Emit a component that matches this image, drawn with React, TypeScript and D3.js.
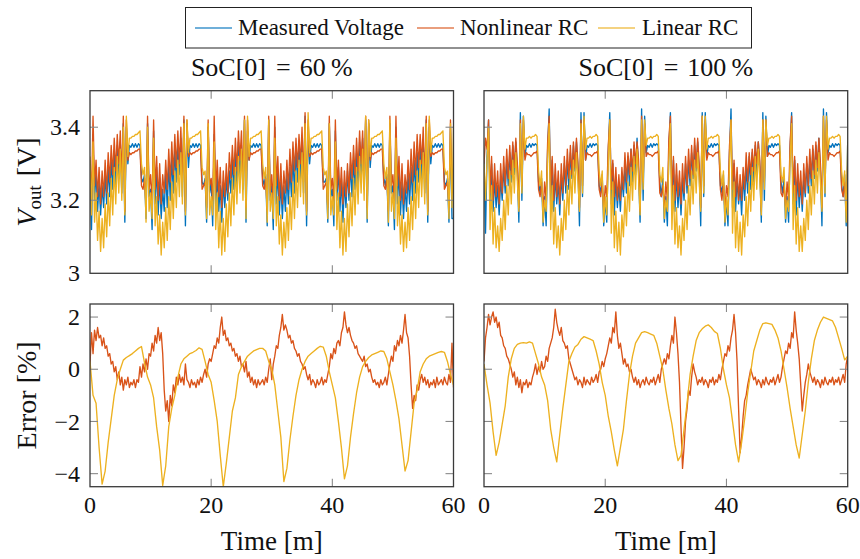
import React from "react";
import * as d3 from "d3";

const FONT = "'Liberation Serif', 'Times New Roman', serif";

const legendLabels = ["Measured Voltage", "Nonlinear RC", "Linear RC"];
const lineColors = ["#0072BD", "#D95319", "#EDB120"];
const panelTitleLeft = ["SoC[0]", "=", "60\u2009%"];
const panelTitleRight = ["SoC[0]", "=", "100\u2009%"];
const timeTicks = [0, 20, 40, 60];
const voltTicks = [3, 3.2, 3.4];
const voltTickLabels = ["3", "3.2", "3.4"];
const errTicks = [-4, -2, 0, 2];
const errTickLabels = ["\u22124", "\u22122", "0", "2"];
const timeDomain: [number, number] = [0, 60];
const voltDomain: [number, number] = [3, 3.5];
const errDomain: [number, number] = [-4.5, 2.5];

// ---- SoC[0] = 60 % : output voltage [V], sampled every 0.25 min ----
const leftMeasured = [
  3.30, 3.12, 3.36, 3.20, 3.28, 3.17, 3.25, 3.16, 3.24, 3.18, 3.27, 3.19, 3.29, 3.21, 3.31, 3.23, 3.33, 3.24, 3.35, 3.26, 3.36, 3.22, 3.41, 3.14, 3.40, 3.30, 3.35, 3.345, 3.355, 3.345, 3.355, 3.345, 3.355, 3.35, 3.26, 3.25, 3.27, 3.15, 3.41, 3.21,
  3.23, 3.12, 3.39, 3.19, 3.29, 3.16, 3.26, 3.15, 3.23, 3.17, 3.28, 3.18, 3.30, 3.20, 3.32, 3.22, 3.34, 3.25, 3.35, 3.27, 3.37, 3.21, 3.42, 3.13, 3.41, 3.29, 3.35, 3.345, 3.355, 3.345, 3.355, 3.345, 3.355, 3.35, 3.25, 3.24, 3.26, 3.14, 3.40, 3.22,
  3.25, 3.13, 3.38, 3.18, 3.27, 3.17, 3.24, 3.14, 3.25, 3.18, 3.26, 3.20, 3.28, 3.22, 3.31, 3.23, 3.33, 3.24, 3.36, 3.26, 3.35, 3.23, 3.42, 3.14, 3.39, 3.31, 3.35, 3.345, 3.355, 3.345, 3.355, 3.345, 3.355, 3.35, 3.26, 3.24, 3.27, 3.13, 3.42, 3.20,
  3.24, 3.12, 3.40, 3.19, 3.28, 3.16, 3.25, 3.15, 3.24, 3.17, 3.27, 3.19, 3.29, 3.21, 3.32, 3.22, 3.34, 3.25, 3.35, 3.26, 3.36, 3.22, 3.43, 3.13, 3.40, 3.30, 3.35, 3.345, 3.355, 3.345, 3.355, 3.345, 3.355, 3.35, 3.25, 3.25, 3.26, 3.14, 3.41, 3.21,
  3.23, 3.13, 3.39, 3.20, 3.29, 3.17, 3.26, 3.14, 3.25, 3.18, 3.28, 3.20, 3.30, 3.21, 3.31, 3.23, 3.33, 3.24, 3.36, 3.27, 3.37, 3.23, 3.42, 3.14, 3.41, 3.29, 3.35, 3.345, 3.355, 3.345, 3.355, 3.345, 3.355, 3.35, 3.26, 3.24, 3.27, 3.13, 3.41, 3.22,
  3.24, 3.12, 3.40, 3.19, 3.28, 3.16, 3.25, 3.15, 3.24, 3.17, 3.27, 3.19, 3.29, 3.20, 3.31, 3.22, 3.33, 3.25, 3.35, 3.26, 3.36, 3.22, 3.42, 3.14, 3.40, 3.30, 3.35, 3.345, 3.355, 3.345, 3.355, 3.345, 3.355, 3.35, 3.25, 3.24, 3.26, 3.14, 3.40, 3.15,
  3.15,
];
const leftNonlinear = [
  3.31, 3.20, 3.43, 3.24, 3.31, 3.21, 3.29, 3.19, 3.28, 3.21, 3.31, 3.22, 3.33, 3.25, 3.35, 3.27, 3.37, 3.28, 3.38, 3.30, 3.39, 3.26, 3.43, 3.17, 3.42, 3.31, 3.33, 3.325, 3.33, 3.33, 3.335, 3.335, 3.34, 3.34, 3.24, 3.23, 3.26, 3.18, 3.43, 3.23,
  3.27, 3.19, 3.42, 3.23, 3.32, 3.20, 3.30, 3.19, 3.27, 3.22, 3.31, 3.23, 3.34, 3.25, 3.36, 3.27, 3.38, 3.29, 3.39, 3.30, 3.40, 3.25, 3.43, 3.17, 3.42, 3.32, 3.33, 3.325, 3.33, 3.33, 3.335, 3.335, 3.34, 3.34, 3.23, 3.24, 3.25, 3.18, 3.42, 3.24,
  3.26, 3.20, 3.43, 3.22, 3.31, 3.21, 3.29, 3.18, 3.28, 3.21, 3.30, 3.22, 3.33, 3.26, 3.35, 3.27, 3.37, 3.28, 3.39, 3.31, 3.39, 3.26, 3.43, 3.18, 3.42, 3.31, 3.33, 3.325, 3.33, 3.33, 3.335, 3.335, 3.34, 3.34, 3.24, 3.23, 3.26, 3.17, 3.43, 3.22,
  3.27, 3.19, 3.43, 3.24, 3.32, 3.20, 3.30, 3.19, 3.28, 3.22, 3.31, 3.23, 3.34, 3.25, 3.36, 3.28, 3.37, 3.29, 3.38, 3.30, 3.40, 3.25, 3.44, 3.17, 3.42, 3.32, 3.33, 3.325, 3.33, 3.33, 3.335, 3.335, 3.34, 3.34, 3.23, 3.24, 3.25, 3.18, 3.43, 3.23,
  3.26, 3.20, 3.42, 3.23, 3.31, 3.21, 3.29, 3.19, 3.28, 3.21, 3.30, 3.22, 3.33, 3.26, 3.35, 3.27, 3.37, 3.28, 3.39, 3.30, 3.39, 3.26, 3.43, 3.18, 3.42, 3.31, 3.33, 3.325, 3.33, 3.33, 3.335, 3.335, 3.34, 3.34, 3.24, 3.23, 3.26, 3.17, 3.43, 3.24,
  3.27, 3.19, 3.43, 3.24, 3.32, 3.20, 3.30, 3.19, 3.27, 3.22, 3.31, 3.23, 3.34, 3.25, 3.36, 3.27, 3.38, 3.29, 3.38, 3.30, 3.40, 3.25, 3.43, 3.17, 3.42, 3.32, 3.33, 3.325, 3.33, 3.33, 3.335, 3.335, 3.34, 3.34, 3.23, 3.24, 3.25, 3.18, 3.42, 3.22,
  3.25,
];
const leftLinear = [
  3.32, 3.16, 3.36, 3.14, 3.22, 3.09, 3.17, 3.06, 3.15, 3.07, 3.19, 3.10, 3.22, 3.13, 3.26, 3.16, 3.29, 3.19, 3.32, 3.22, 3.34, 3.20, 3.40, 3.16, 3.43, 3.32, 3.37, 3.37, 3.375, 3.375, 3.38, 3.38, 3.385, 3.39, 3.30, 3.27, 3.29, 3.14, 3.40, 3.17,
  3.22, 3.15, 3.37, 3.13, 3.21, 3.08, 3.16, 3.05, 3.14, 3.07, 3.18, 3.09, 3.21, 3.12, 3.25, 3.15, 3.28, 3.18, 3.31, 3.21, 3.33, 3.19, 3.41, 3.16, 3.42, 3.33, 3.37, 3.37, 3.375, 3.375, 3.38, 3.38, 3.385, 3.39, 3.29, 3.27, 3.28, 3.15, 3.41, 3.16,
  3.21, 3.16, 3.36, 3.12, 3.22, 3.07, 3.17, 3.05, 3.15, 3.06, 3.19, 3.10, 3.22, 3.13, 3.26, 3.16, 3.29, 3.19, 3.32, 3.22, 3.34, 3.20, 3.42, 3.15, 3.43, 3.32, 3.37, 3.37, 3.375, 3.375, 3.38, 3.38, 3.385, 3.39, 3.30, 3.26, 3.29, 3.14, 3.42, 3.17,
  3.22, 3.15, 3.37, 3.13, 3.21, 3.08, 3.16, 3.05, 3.14, 3.07, 3.18, 3.09, 3.21, 3.12, 3.25, 3.15, 3.28, 3.18, 3.31, 3.21, 3.33, 3.19, 3.41, 3.16, 3.44, 3.33, 3.37, 3.37, 3.375, 3.375, 3.38, 3.38, 3.385, 3.39, 3.29, 3.27, 3.28, 3.15, 3.41, 3.16,
  3.21, 3.16, 3.36, 3.12, 3.22, 3.07, 3.17, 3.05, 3.15, 3.06, 3.19, 3.10, 3.22, 3.13, 3.26, 3.16, 3.29, 3.19, 3.32, 3.22, 3.34, 3.20, 3.43, 3.15, 3.42, 3.32, 3.37, 3.37, 3.375, 3.375, 3.38, 3.38, 3.385, 3.39, 3.30, 3.26, 3.29, 3.14, 3.42, 3.17,
  3.22, 3.15, 3.37, 3.13, 3.21, 3.08, 3.16, 3.06, 3.14, 3.07, 3.18, 3.09, 3.21, 3.12, 3.25, 3.15, 3.28, 3.18, 3.31, 3.21, 3.33, 3.19, 3.41, 3.16, 3.43, 3.33, 3.37, 3.37, 3.375, 3.375, 3.38, 3.38, 3.385, 3.39, 3.29, 3.27, 3.28, 3.15, 3.41, 3.18,
  3.40,
];

// ---- SoC[0] = 100 % : output voltage [V], sampled every 0.25 min ----
const rightMeasured = [
  3.31, 3.11, 3.32, 3.42, 3.19, 3.30, 3.17, 3.26, 3.18, 3.24, 3.16, 3.26, 3.20, 3.29, 3.22, 3.31, 3.24, 3.33, 3.25, 3.35, 3.27, 3.36, 3.28, 3.14, 3.44, 3.20, 3.43, 3.32, 3.35, 3.345, 3.355, 3.345, 3.355, 3.35, 3.355, 3.35, 3.25, 3.22, 3.26, 3.13,
  3.21, 3.13, 3.34, 3.45, 3.18, 3.31, 3.17, 3.27, 3.19, 3.25, 3.16, 3.27, 3.20, 3.30, 3.22, 3.31, 3.23, 3.33, 3.26, 3.35, 3.28, 3.36, 3.29, 3.13, 3.44, 3.21, 3.44, 3.31, 3.35, 3.345, 3.355, 3.345, 3.355, 3.35, 3.355, 3.35, 3.24, 3.22, 3.27, 3.13,
  3.20, 3.14, 3.33, 3.44, 3.19, 3.30, 3.16, 3.26, 3.18, 3.24, 3.17, 3.26, 3.21, 3.29, 3.22, 3.32, 3.24, 3.34, 3.25, 3.35, 3.27, 3.37, 3.28, 3.14, 3.45, 3.20, 3.43, 3.33, 3.35, 3.345, 3.355, 3.345, 3.355, 3.35, 3.355, 3.35, 3.25, 3.21, 3.26, 3.14,
  3.21, 3.13, 3.34, 3.44, 3.19, 3.31, 3.17, 3.27, 3.18, 3.25, 3.16, 3.26, 3.20, 3.30, 3.22, 3.31, 3.24, 3.33, 3.26, 3.35, 3.28, 3.36, 3.28, 3.13, 3.44, 3.21, 3.44, 3.32, 3.35, 3.345, 3.355, 3.345, 3.355, 3.35, 3.355, 3.35, 3.24, 3.22, 3.27, 3.13,
  3.20, 3.13, 3.33, 3.45, 3.18, 3.30, 3.17, 3.26, 3.19, 3.24, 3.16, 3.27, 3.20, 3.29, 3.22, 3.32, 3.23, 3.33, 3.25, 3.35, 3.27, 3.36, 3.29, 3.14, 3.44, 3.20, 3.43, 3.32, 3.35, 3.345, 3.355, 3.345, 3.355, 3.35, 3.355, 3.35, 3.25, 3.22, 3.26, 3.14,
  3.21, 3.14, 3.34, 3.44, 3.19, 3.31, 3.16, 3.27, 3.18, 3.25, 3.17, 3.26, 3.21, 3.30, 3.22, 3.31, 3.24, 3.34, 3.26, 3.35, 3.28, 3.37, 3.28, 3.13, 3.45, 3.21, 3.44, 3.33, 3.35, 3.345, 3.355, 3.345, 3.355, 3.35, 3.355, 3.35, 3.24, 3.21, 3.27, 3.13,
  3.36,
];
const rightNonlinear = [
  3.30, 3.37, 3.34, 3.42, 3.22, 3.32, 3.20, 3.30, 3.21, 3.28, 3.19, 3.30, 3.22, 3.32, 3.24, 3.34, 3.26, 3.35, 3.27, 3.36, 3.29, 3.37, 3.30, 3.18, 3.42, 3.24, 3.42, 3.31, 3.33, 3.325, 3.325, 3.32, 3.325, 3.33, 3.33, 3.335, 3.23, 3.21, 3.25, 3.17,
  3.25, 3.20, 3.36, 3.43, 3.22, 3.32, 3.20, 3.30, 3.21, 3.28, 3.19, 3.30, 3.22, 3.32, 3.24, 3.34, 3.26, 3.35, 3.27, 3.36, 3.29, 3.37, 3.30, 3.18, 3.42, 3.24, 3.42, 3.31, 3.33, 3.325, 3.325, 3.32, 3.325, 3.33, 3.33, 3.335, 3.23, 3.21, 3.25, 3.17,
  3.24, 3.21, 3.35, 3.42, 3.23, 3.31, 3.21, 3.29, 3.20, 3.27, 3.20, 3.29, 3.23, 3.33, 3.25, 3.33, 3.27, 3.34, 3.28, 3.36, 3.30, 3.36, 3.31, 3.17, 3.43, 3.25, 3.41, 3.32, 3.33, 3.325, 3.325, 3.32, 3.325, 3.33, 3.33, 3.335, 3.22, 3.21, 3.24, 3.18,
  3.25, 3.20, 3.37, 3.43, 3.22, 3.32, 3.20, 3.30, 3.21, 3.28, 3.19, 3.30, 3.22, 3.32, 3.24, 3.34, 3.26, 3.35, 3.27, 3.37, 3.29, 3.37, 3.30, 3.18, 3.43, 3.24, 3.42, 3.31, 3.33, 3.325, 3.325, 3.32, 3.325, 3.33, 3.33, 3.335, 3.23, 3.20, 3.25, 3.17,
  3.24, 3.21, 3.35, 3.42, 3.23, 3.31, 3.21, 3.29, 3.20, 3.27, 3.20, 3.29, 3.23, 3.33, 3.25, 3.33, 3.27, 3.34, 3.28, 3.36, 3.30, 3.36, 3.31, 3.17, 3.42, 3.25, 3.42, 3.32, 3.33, 3.325, 3.325, 3.32, 3.325, 3.33, 3.33, 3.335, 3.22, 3.21, 3.24, 3.18,
  3.25, 3.20, 3.36, 3.43, 3.22, 3.32, 3.20, 3.30, 3.21, 3.28, 3.19, 3.30, 3.22, 3.32, 3.24, 3.34, 3.26, 3.35, 3.27, 3.36, 3.29, 3.37, 3.30, 3.18, 3.43, 3.24, 3.42, 3.31, 3.33, 3.325, 3.325, 3.32, 3.325, 3.33, 3.33, 3.335, 3.23, 3.21, 3.25, 3.17,
  3.30,
];
const rightLinear = [
  3.30, 3.20, 3.31, 3.40, 3.12, 3.24, 3.08, 3.18, 3.07, 3.13, 3.06, 3.15, 3.09, 3.20, 3.12, 3.24, 3.16, 3.28, 3.19, 3.31, 3.22, 3.33, 3.25, 3.17, 3.41, 3.22, 3.43, 3.34, 3.37, 3.37, 3.375, 3.37, 3.375, 3.375, 3.38, 3.375, 3.28, 3.24, 3.28, 3.14,
  3.20, 3.17, 3.31, 3.41, 3.12, 3.24, 3.08, 3.18, 3.07, 3.13, 3.05, 3.15, 3.09, 3.20, 3.12, 3.24, 3.16, 3.28, 3.19, 3.31, 3.22, 3.33, 3.25, 3.17, 3.41, 3.22, 3.43, 3.34, 3.37, 3.37, 3.375, 3.37, 3.375, 3.375, 3.38, 3.375, 3.28, 3.24, 3.28, 3.14,
  3.21, 3.16, 3.30, 3.42, 3.11, 3.25, 3.07, 3.17, 3.06, 3.14, 3.05, 3.16, 3.10, 3.21, 3.13, 3.25, 3.17, 3.29, 3.20, 3.32, 3.23, 3.34, 3.26, 3.16, 3.42, 3.23, 3.42, 3.35, 3.37, 3.37, 3.375, 3.37, 3.375, 3.375, 3.38, 3.375, 3.27, 3.25, 3.29, 3.15,
  3.20, 3.17, 3.31, 3.41, 3.12, 3.24, 3.08, 3.18, 3.07, 3.13, 3.05, 3.15, 3.09, 3.20, 3.12, 3.24, 3.16, 3.28, 3.19, 3.31, 3.22, 3.33, 3.25, 3.17, 3.43, 3.22, 3.43, 3.34, 3.37, 3.37, 3.375, 3.37, 3.375, 3.375, 3.38, 3.375, 3.28, 3.24, 3.28, 3.14,
  3.21, 3.16, 3.30, 3.42, 3.11, 3.25, 3.07, 3.17, 3.06, 3.14, 3.05, 3.16, 3.10, 3.21, 3.13, 3.25, 3.17, 3.29, 3.20, 3.32, 3.23, 3.34, 3.26, 3.16, 3.42, 3.23, 3.42, 3.35, 3.37, 3.37, 3.375, 3.37, 3.375, 3.375, 3.38, 3.375, 3.27, 3.25, 3.29, 3.15,
  3.20, 3.17, 3.31, 3.41, 3.12, 3.24, 3.08, 3.18, 3.06, 3.13, 3.06, 3.15, 3.09, 3.20, 3.12, 3.24, 3.16, 3.28, 3.19, 3.31, 3.22, 3.33, 3.25, 3.17, 3.43, 3.22, 3.43, 3.34, 3.37, 3.37, 3.375, 3.37, 3.375, 3.375, 3.38, 3.375, 3.28, 3.24, 3.28, 3.14,
  3.36,
];

// ---- Relative error [%] ----
// Nonlinear RC, every 0.25 min
const leftNonlinearErr = [
  0.2, 1.4, 0.6, 1.5, 1.1, 1.6, 1.2, 1.3, 0.9, 1.2, 0.8, 0.9, 0.5, 0.6, 0.2, 0.3, -0.1, 0.1, -0.4, -0.1, -0.6, -0.3, -0.8, -0.4, -0.6, -0.3, -0.7, -0.5, -0.6, -0.4, -0.7, -0.4, -0.5, 0.1, -0.3, 0.2, -0.1, 0.4, 0.0, 0.6,
  0.5, 1.0, 0.7, 1.3, 1.0, 1.6, 1.1, 1.4, 0.6, -0.8, -1.6, -1.2, -2.0, -1.0, -1.4, -0.6, -0.9, -0.3, -0.6, -0.2, -0.5, -0.3, -0.6, 0.2, -0.4, -0.5, -0.7, -0.4, -0.6, -0.5, -0.7, -0.4, -0.6, -0.3, -0.5, -0.2, 0.0, -0.3, 0.2, 0.4,
  0.3, 0.6, 0.9, 0.8, 1.2, 1.0, 1.6, 2.0, 1.3, 1.5, 1.1, 1.2, 0.9, 1.0, 0.7, 0.8, 0.5, 0.6, 0.3, 0.5, 0.1, 0.2, -0.1, 0.3, -0.3, -0.1, -0.5, -0.3, -0.6, -0.4, -0.7, -0.4, -0.6, -0.5, -0.4, -0.6, -0.3, -0.5, 0.0, 0.4,
  -0.4, 0.2, 0.5, 0.9, 0.8, 1.3, 1.6, 2.1, 1.5, 1.7, 1.5, 1.2, 1.3, 1.0, 1.1, 0.8, 0.7, 0.5, 0.6, 0.3, 0.2, 0.0, 0.1, -0.2, -0.4, -0.2, -0.6, -0.4, -0.5, -0.7, -0.4, -0.6, -0.5, -0.3, -0.6, -0.4, -0.5, -0.2, 0.1, 0.6,
  0.4, 0.8, 0.6, 1.0, 1.1, 0.9, 1.4, 1.6, 2.2, 1.7, 1.4, 1.6, 1.3, 1.1, 1.0, 0.8, 0.9, 0.6, 0.5, 0.4, 0.3, 0.5, 0.1, 0.2, -0.1, 0.0, -0.3, -0.5, -0.4, -0.6, -0.5, -0.7, -0.4, -0.6, -0.5, -0.3, -0.6, -0.2, 0.2, 0.5,
  0.3, 0.9, 0.7, 1.1, 0.9, 1.3, 1.0, 1.5, 2.1, 1.4, 1.2, 0.5, -0.6, -1.5, -1.0, -1.2, -0.6, -0.8, -0.4, -0.2, -0.5, -0.3, -0.6, -0.4, -0.7, -0.5, -0.6, -0.4, -0.7, -0.3, -0.6, -0.5, -0.4, -0.6, -0.3, -0.5, -0.6, -0.2, -0.5, 1.0,
  -0.7,
];
// Linear RC, every 0.5 min
const leftLinearErr = [
  0.3, -1.0, -1.3, -3.0, -4.4, -3.9, -2.8, -1.9, -1.0, -0.4, 0.0, 0.35, 0.45, 0.52, 0.6, 0.7, 0.8, 0.87, 0.24, -0.3,
  -0.6, -1.1, -2.2, -3.1, -4.45, -3.7, -2.2, -1.5, -1.0, -0.3, 0.2, 0.4, 0.5, 0.6, 0.65, 0.72, 0.82, 0.76, 0.3, -0.2,
  -0.5, -1.2, -2.0, -3.3, -4.5, -3.6, -2.6, -1.6, -1.1, -0.2, 0.1, 0.3, 0.5, 0.6, 0.7, 0.75, 0.8, 0.8, 0.7, 0.3,
  0.0, -0.6, -1.6, -2.6, -4.3, -3.8, -2.7, -1.8, -1.0, -0.4, 0.0, 0.3, 0.5, 0.6, 0.7, 0.8, 0.88, 0.85, 0.5, -0.1,
  -0.6, -1.1, -2.0, -3.0, -4.2, -3.7, -2.6, -1.7, -0.9, -0.3, 0.1, 0.3, 0.45, 0.55, 0.6, 0.65, 0.7, 0.68, 0.4, -0.1,
  -0.6, -1.2, -1.9, -2.9, -3.9, -3.5, -2.4, -1.3, -0.8, -0.1, 0.2, 0.4, 0.5, 0.55, 0.6, 0.65, 0.68, 0.65, 0.3, -0.2,
  -0.6,
];
const rightNonlinearErr = [
  0.3, 1.2, 1.6, 2.1, 1.7, 2.0, 2.2, 1.8, 2.0, 1.6, 1.8, 1.3, 1.2, 0.9, 0.8, 0.5, 0.4, 0.2, 0.0, -0.3, -0.1, -0.6, -0.3, -0.7, -0.4, -0.9, -0.5, -0.6, -0.4, -0.7, -0.5, -0.6, -0.3, -0.1, 0.2, -0.2, 0.1, -0.1, 0.3, 0.0,
  0.1, 0.5, 0.3, 0.8, 1.0, 1.2, 1.6, 2.3, 1.8, 1.5, 1.3, 1.6, 1.1, 1.0, 0.8, 0.9, 0.4, 0.2, 0.0, -0.2, -0.4, -0.3, -0.6, -0.4, -0.5, -0.7, -0.3, -0.6, -0.4, -0.5, -0.6, -0.3, -0.5, -0.4, -0.2, -0.5, -0.1, 0.0, 0.3, 0.1,
  0.4, 0.6, 0.9, 1.2, 1.0, 1.6, 1.4, 2.2, 1.3, 0.8, 1.0, 0.6, 0.2, 0.4, 0.1, 0.2, -0.1, 0.0, -0.3, -0.5, -0.3, -0.6, -0.4, -0.7, -0.5, -0.4, -0.6, -0.3, -0.5, -0.6, -0.4, -0.5, -0.3, -0.6, -0.4, -0.2, -0.5, 0.0, 0.2, 0.4,
  0.2, 0.6, 0.4, 0.9, 1.3, 1.0, 2.0, 1.4, 0.6, -0.5, -2.2, -3.8, -3.0, -2.0, -1.5, -0.8, -1.0, -0.3, 0.2, -0.1, -0.3, -0.6, -0.4, -0.5, -0.3, -0.6, -0.4, -0.5, -0.7, -0.4, -0.5, -0.3, -0.6, -0.4, -0.5, -0.2, -0.4, 0.0, 0.3, 0.6,
  0.5, 0.9, 0.7, 1.2, 1.5, 2.1, 1.4, 0.3, -1.5, -3.2, -2.6, -1.8, -1.2, -1.0, -0.6, -0.3, 0.0, -0.2, -0.4, -0.3, -0.6, -0.4, -0.5, -0.7, -0.4, -0.6, -0.3, -0.5, -0.6, -0.4, -0.5, -0.3, -0.6, -0.4, -0.2, -0.5, -0.3, 0.1, 0.4, 0.7,
  0.6, 1.0, 0.8, 1.4, 1.2, 2.2, 1.5, 1.0, 0.4, -0.6, -1.6, -1.0, -0.5, -0.2, 0.2, -0.1, -0.3, -0.5, -0.3, -0.6, -0.4, -0.5, -0.7, -0.4, -0.6, -0.3, -0.5, -0.6, -0.4, -0.5, -0.3, -0.6, -0.4, -0.5, -0.3, -0.6, -0.4, -0.2, -0.5, 0.2,
  0.5,
];
const rightLinearErr = [
  0.2, -0.6, -1.3, -2.4, -3.3, -2.8, -2.1, -1.4, -0.3, 0.4, 0.8, 0.95, 1.0, 1.02, 1.0, 1.05, 1.0, 0.6, 0.2, -0.3,
  -0.6, -1.2, -2.3, -3.0, -3.55, -2.5, -1.5, -0.6, 0.3, 0.6, 0.85, 0.95, 1.15, 1.25, 1.2, 1.15, 1.1, 0.7, 0.2, -0.5,
  -1.0, -1.8, -2.4, -3.1, -3.7, -3.0, -2.3, -1.2, -0.2, 0.5, 1.0, 1.2, 1.4, 1.44, 1.4, 1.35, 1.3, 1.0, 0.5, 0.0,
  -0.8, -1.5, -2.1, -2.9, -3.5, -3.3, -2.3, -1.3, -0.2, 0.5, 1.1, 1.4, 1.55, 1.65, 1.7, 1.6, 1.45, 1.37, 0.8, 0.0,
  -0.6, -1.1, -2.0, -2.9, -3.55, -2.8, -1.9, -0.9, -0.1, 0.7, 1.1, 1.5, 1.75, 1.78, 1.75, 1.72, 1.5, 1.2, 0.7, 0.0,
  -0.7, -1.5, -2.2, -2.9, -3.4, -2.5, -1.6, -0.5, 0.4, 1.1, 1.5, 1.8, 2.0, 1.95, 1.9, 1.85, 1.6, 1.2, 0.8, 0.36,
  0.5,
];

const cols = [
  { x: 90, w: 363.5 },
  { x: 484, w: 363.7 },
];
const rows = [
  { y: 90.7, h: 182.6 },
  { y: 304, h: 182.7 },
];

type PanelProps = {
  id: string;
  col: number;
  row: number;
  yDomain: [number, number];
  yTicks: number[];
  yTickLabels: string[] | null;
  showXLabels: boolean;
  series: { values: number[]; color: string }[];
};

function Panel({ id, col, row, yDomain, yTicks, yTickLabels, showXLabels, series }: PanelProps) {
  const { x, w } = cols[col];
  const { y, h } = rows[row];
  const xs = d3.scaleLinear().domain(timeDomain).range([x, x + w]);
  const ys = d3.scaleLinear().domain(yDomain).range([y + h, y]);
  const tickLen = 8;
  return (
    <g>
      <defs>
        <clipPath id={id}>
          <rect x={x} y={y} width={w} height={h} />
        </clipPath>
      </defs>
      <g clipPath={`url(#${id})`}>
        {series.map((s, k) => {
          const n = s.values.length;
          const line = d3
            .line<number>()
            .x((_, i) => xs((i * 60) / (n - 1)))
            .y((v) => ys(v));
          return (
            <path
              key={k}
              d={line(s.values) || ""}
              fill="none"
              stroke={s.color}
              strokeWidth={1.35}
              strokeLinejoin="round"
            />
          );
        })}
      </g>
      {timeTicks
        .filter((t) => t > timeDomain[0] && t < timeDomain[1])
        .map((t) => (
          <g key={"xt" + t} stroke="#8a8a8a" strokeWidth={1.1}>
            <line x1={xs(t)} x2={xs(t)} y1={y} y2={y + tickLen} />
            <line x1={xs(t)} x2={xs(t)} y1={y + h} y2={y + h - tickLen} />
          </g>
        ))}
      {yTicks
        .filter((v) => v > yDomain[0] && v < yDomain[1])
        .map((v) => (
          <g key={"yt" + v} stroke="#8a8a8a" strokeWidth={1.1}>
            <line x1={x} x2={x + tickLen} y1={ys(v)} y2={ys(v)} />
            <line x1={x + w} x2={x + w - tickLen} y1={ys(v)} y2={ys(v)} />
          </g>
        ))}
      <rect x={x} y={y} width={w} height={h} fill="none" stroke="#3a3a3a" strokeWidth={1.3} />
      {yTickLabels &&
        yTicks.map((v, i) => (
          <text
            key={"yl" + v}
            x={x - 10}
            y={ys(v)}
            dy="0.34em"
            textAnchor="end"
            fontSize={24}
            fontFamily={FONT}
            fill="#111"
          >
            {yTickLabels[i]}
          </text>
        ))}
      {showXLabels &&
        timeTicks.map((t) => (
          <text
            key={"xl" + t}
            x={xs(t)}
            y={y + h + 26}
            textAnchor="middle"
            fontSize={24}
            fontFamily={FONT}
            fill="#111"
          >
            {t}
          </text>
        ))}
    </g>
  );
}

export default function App() {
  const legendItems = [
    { lineX: 195, textX: 238 },
    { lineX: 417, textX: 460 },
    { lineX: 598, textX: 642 },
  ];
  const titles = [panelTitleLeft, panelTitleRight];
  return (
    <svg width={860} height={559} style={{ display: "block", position: "absolute", left: 0, top: 0 }}>
      <rect x={0} y={0} width={860} height={559} fill="#fff" />
      {/* legend */}
      <rect x={185.5} y={7.5} width={566} height={40.5} fill="#fff" stroke="#222" strokeWidth={1} />
      {legendLabels.map((lab, i) => (
        <g key={lab}>
          <line
            x1={legendItems[i].lineX}
            x2={legendItems[i].lineX + 37}
            y1={28}
            y2={28}
            stroke={lineColors[i]}
            strokeWidth={1.6}
            opacity={0.75}
          />
          <text x={legendItems[i].textX} y={35} fontSize={23} fontFamily={FONT} fill="#111">
            {lab}
          </text>
        </g>
      ))}
      {/* titles */}
      {titles.map((parts, i) => (
        <text
          key={"title" + i}
          x={cols[i].x + cols[i].w / 2}
          y={76}
          textAnchor="middle"
          fontSize={26}
          fontFamily={FONT}
          fill="#111"
        >
          <tspan>{parts[0]}</tspan>
          <tspan dx={10}>{parts[1]}</tspan>
          <tspan dx={9}>{parts[2]}</tspan>
        </text>
      ))}
      <Panel
        id="clip-tl"
        col={0}
        row={0}
        yDomain={voltDomain}
        yTicks={voltTicks}
        yTickLabels={voltTickLabels}
        showXLabels={false}
        series={[
          { values: leftMeasured, color: lineColors[0] },
          { values: leftNonlinear, color: lineColors[1] },
          { values: leftLinear, color: lineColors[2] },
        ]}
      />
      <Panel
        id="clip-tr"
        col={1}
        row={0}
        yDomain={voltDomain}
        yTicks={voltTicks}
        yTickLabels={null}
        showXLabels={false}
        series={[
          { values: rightMeasured, color: lineColors[0] },
          { values: rightNonlinear, color: lineColors[1] },
          { values: rightLinear, color: lineColors[2] },
        ]}
      />
      <Panel
        id="clip-bl"
        col={0}
        row={1}
        yDomain={errDomain}
        yTicks={errTicks}
        yTickLabels={errTickLabels}
        showXLabels={true}
        series={[
          { values: leftNonlinearErr, color: lineColors[1] },
          { values: leftLinearErr, color: lineColors[2] },
        ]}
      />
      <Panel
        id="clip-br"
        col={1}
        row={1}
        yDomain={errDomain}
        yTicks={errTicks}
        yTickLabels={null}
        showXLabels={true}
        series={[
          { values: rightNonlinearErr, color: lineColors[1] },
          { values: rightLinearErr, color: lineColors[2] },
        ]}
      />
      {/* axis labels */}
      <text
        transform={`translate(36,${rows[0].y + rows[0].h / 2}) rotate(-90)`}
        textAnchor="middle"
        fontSize={28}
        fontFamily={FONT}
        fill="#111"
      >
        <tspan fontStyle="italic">V</tspan>
        <tspan fontSize={19} dy={5}>out</tspan>
        <tspan dy={-5} dx={9}>[V]</tspan>
      </text>
      <text
        transform={`translate(36,${rows[1].y + rows[1].h / 2}) rotate(-90)`}
        textAnchor="middle"
        fontSize={28}
        fontFamily={FONT}
        fill="#111"
      >
        Error [%]
      </text>
      {cols.map((c, i) => (
        <text
          key={"time" + i}
          x={c.x + c.w / 2}
          y={550}
          textAnchor="middle"
          fontSize={27}
          fontFamily={FONT}
          fill="#111"
        >
          Time [m]
        </text>
      ))}
    </svg>
  );
}
